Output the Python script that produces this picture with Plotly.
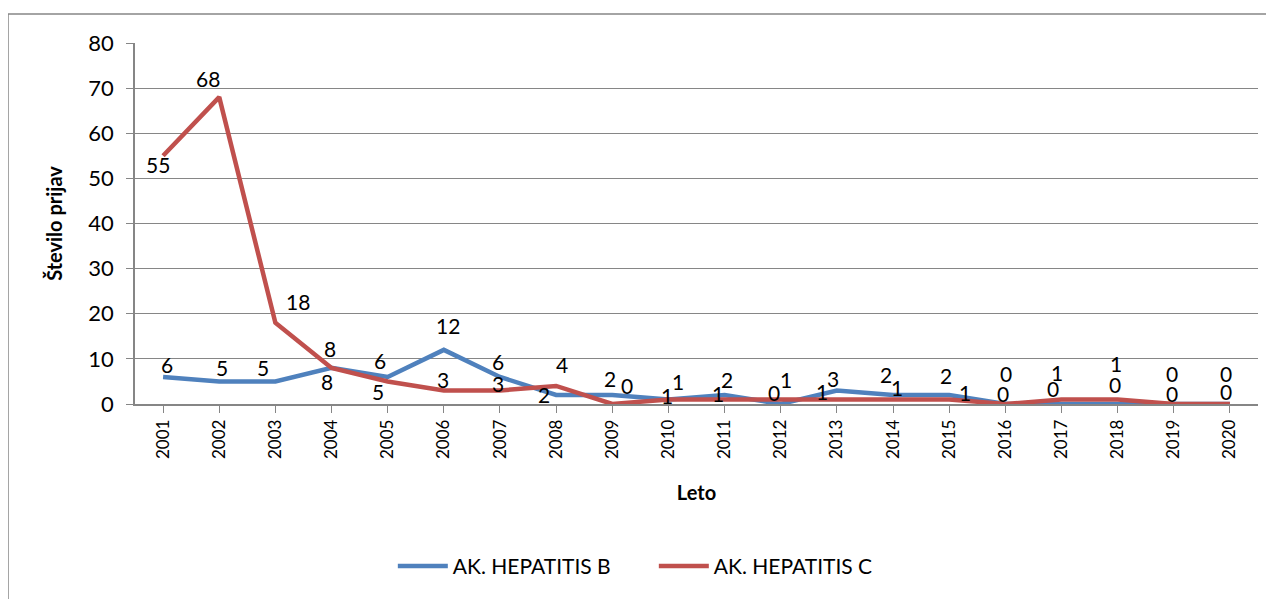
import plotly.graph_objects as go

years = [str(y) for y in range(2001, 2021)]
hep_b = [6, 5, 5, 8, 6, 12, 6, 2, 2, 1, 2, 0, 3, 2, 2, 0, 0, 0, 0, 0]
hep_c = [55, 68, 18, 8, 5, 3, 3, 4, 0, 1, 1, 1, 1, 1, 1, 0, 1, 1, 0, 0]

# pixel offsets of each data label from its point (dx, dy; dy down), like the original
off_b = [(4, -12), (3, -14), (-12, -14), (-2, -19), (-8, -16), (4, -24), (-2, -15),
         (-12, 0), (-2, -16), (-1, -4), (2, -15), (-7, -12), (-4, -12), (-7, -20),
         (-3, -19), (1, -31), (-8, -16), (-3, -20), (-2, -31), (-4, -31)]
off_c = [(-5, 9), (-11, -19), (23, -21), (-5, 14), (-10, 10), (-1, -11), (-2, -7),
         (6, -21), (15, -19), (10, -18), (-7, -6), (5, -20), (-15, -8), (4, -12),
         (16, -7), (-2, -11), (-4, -27), (-2, -36), (-2, -11), (-4, -13)]

font = "Lato, 'Open Sans', sans-serif"

fig = go.Figure()
fig.add_trace(go.Scatter(x=years, y=hep_b, name="AK. HEPATITIS B", mode="lines",
                         line=dict(color="#4F81BD", width=4.5)))
fig.add_trace(go.Scatter(x=years, y=hep_c, name="AK. HEPATITIS C", mode="lines",
                         line=dict(color="#C0504D", width=4.5)))

for vals, offs in [(hep_b, off_b), (hep_c, off_c)]:
    for i, (v, (dx, dy)) in enumerate(zip(vals, offs)):
        fig.add_annotation(x=i, y=v, text=str(v), showarrow=False,
                           xshift=dx, yshift=-dy,
                           font=dict(size=21, color="black", family=font))

# chart border
fig.add_shape(type="rect", xref="paper", yref="paper",
              x0=-0.1131, x1=1.02, y0=-0.6, y1=1.0803,
              line=dict(color="#868686", width=1.5))

fig.update_layout(
    width=1266, height=591,
    margin=dict(l=127, r=16, t=35, b=195),
    paper_bgcolor="white", plot_bgcolor="white",
    font=dict(family=font, color="black"),
    showlegend=True,
    legend=dict(orientation="h", x=0.462, xanchor="center", y=-0.45, yanchor="middle",
                font=dict(size=21), itemwidth=50, entrywidth=196),
    xaxis=dict(
        type="category",
        title=dict(text="<b>Leto</b>", font=dict(size=20), standoff=28),
        tickangle=-90, tickfont=dict(size=17), range=[-0.5, 19.5],
        ticks="outside", ticklen=7, tickcolor="#868686",
        showline=True, linecolor="#868686", linewidth=1.5, showgrid=False,
    ),
    yaxis=dict(
        title=dict(text="<b>Število prijav</b>", font=dict(size=20), standoff=20),
        range=[0, 80], dtick=10, tickfont=dict(size=22), ticklabelstandoff=8,
        ticks="outside", ticklen=7, tickcolor="#868686",
        showline=True, linecolor="#868686", linewidth=1.5,
        showgrid=True, gridcolor="#868686", gridwidth=1, zeroline=False,
    ),
)

fig.write_html("out.html")
